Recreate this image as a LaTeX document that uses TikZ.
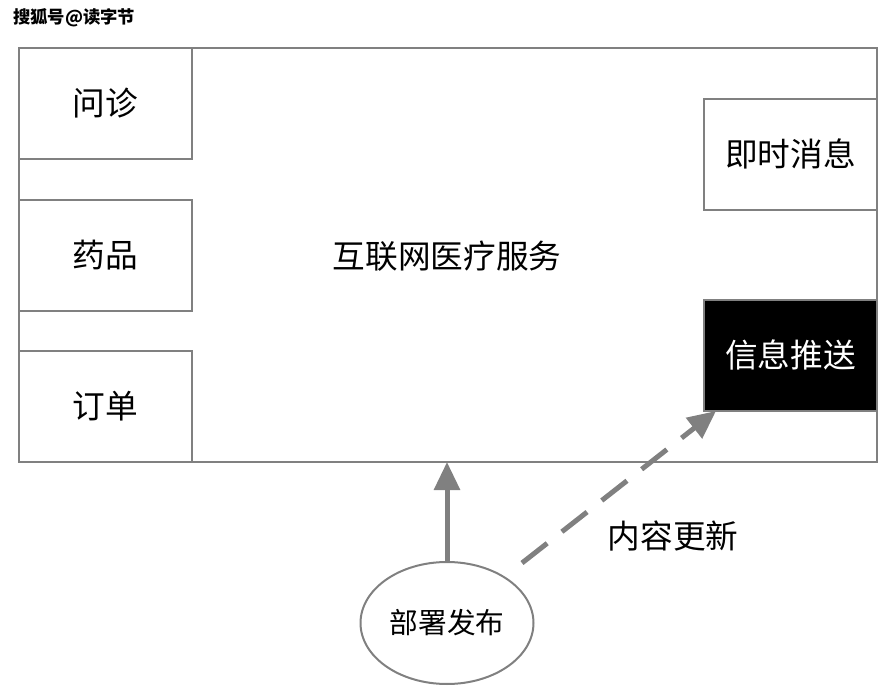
\documentclass[tikz,border=0pt]{standalone}
\usepackage{fontspec}
\newfontfamily\cjk{Noto Sans CJK SC}
\usetikzlibrary{arrows.meta,shapes.geometric}
\definecolor{lg}{HTML}{808080}
\begin{document}
\begin{tikzpicture}[x=0.75pt,y=-0.75pt,
  box/.style={draw=lg,line width=1.5pt,minimum width=173*0.75pt,minimum height=111*0.75pt,inner sep=0pt,font=\cjk\fontsize{24.5}{28}\selectfont,anchor=north west},
  garrow/.style={draw=lg,line width=3.75pt,-{Triangle[length=21pt,width=19pt]}},
  lbl/.style={font=\cjk\fontsize{24.5}{28}\selectfont,inner sep=0pt}]
\useasboundingbox (0,0) rectangle (894,696);
\node[anchor=west,inner sep=0pt,font=\cjk\bfseries\fontsize{13}{15}\selectfont] (wm) at (13,18) {搜狐号@读字节};
\node[draw=lg,line width=1.5pt,minimum width=858*0.75pt,minimum height=414*0.75pt,inner sep=0pt,anchor=north west] (main) at (18,47) {};
\node[lbl] (mainlbl) at (447,256) {互联网医疗服务};
\node[box] (wz) at (18,47) {问诊};
\node[box] (yp) at (18,198.5) {药品};
\node[box] (dd) at (18,350) {订单};
\node[box] (js) at (703,97.5) {即时消息};
\node[box,fill=black,text=white] (xx) at (703,298.5) {信息推送};
\node[draw=lg,line width=1.5pt,ellipse,minimum width=173*0.75pt,minimum height=122*0.75pt,inner sep=0pt,font=\cjk\fontsize{21.5}{25}\selectfont] (bs) at (447,623) {部署发布};
\coordinate (up) at (447,462);
\draw[garrow] (bs.north) -- (up);
\coordinate (ds) at (522,563);
\coordinate (de) at (716,411);
\draw[garrow,dash pattern=on 24pt off 14pt] (ds) -- (de);
\node[lbl] (nr) at (673,536) {内容更新};
\end{tikzpicture}
\end{document}
